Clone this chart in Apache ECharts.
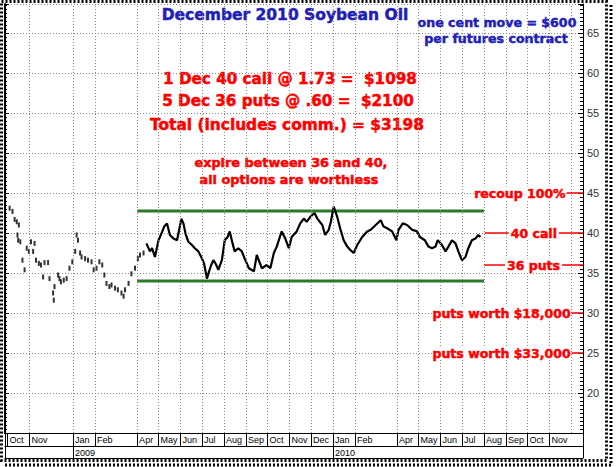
<!DOCTYPE html>
<html><head><meta charset="utf-8">
<script src="https://cdn.jsdelivr.net/npm/echarts@6/dist/echarts.min.js"></script>
<style>html,body{margin:0;padding:0;background:#fff}#c{width:616px;height:467px}</style>
</head><body><div id="c"></div>
<script>
// ---------- data ----------
const earlyDates = ['2008-10-04','2008-10-08','2008-10-11','2008-10-14','2008-10-15','2008-10-16','2008-10-17','2008-10-19','2008-10-22','2008-10-25','2008-10-28','2008-10-31','2008-11-03','2008-11-06','2008-11-08','2008-11-10','2008-11-14','2008-11-17','2008-11-20','2008-11-22','2008-11-27','2008-11-29','2008-12-04','2008-12-05','2008-12-06','2008-12-11','2008-12-13','2008-12-15','2008-12-19','2008-12-23','2008-12-27','2008-12-31','2009-01-04','2009-01-06','2009-01-08','2009-01-11','2009-01-13','2009-01-18','2009-01-22','2009-01-27','2009-01-30','2009-02-03','2009-02-07','2009-02-11','2009-02-14','2009-02-17','2009-02-21','2009-02-24','2009-03-01','2009-03-05','2009-03-10','2009-03-13','2009-03-15','2009-03-20','2009-03-24','2009-03-29','2009-04-02','2009-04-05','2009-04-10'];
const earlyValues = [43.1,42.7,41.7,41.4,39.75,39.1,41.0,38.9,36.6,35.4,38.1,37.7,38.9,37.7,38.7,36.6,36.2,36.0,34.5,36.3,36.3,34.3,32.5,31.6,33.3,34.75,34.3,33.9,34.1,34.3,35.6,36.4,37.7,39.75,39.1,37.5,37.0,36.8,36.6,36.4,35.4,35.6,36.4,36.0,34.75,33.7,33.3,33.5,33.1,32.9,32.5,32.1,32.9,33.7,34.9,35.6,36.8,37.25,37.5];

const priceDates = ['2009-04-14','2009-04-19','2009-04-22','2009-04-26','2009-05-01','2009-05-05','2009-05-09','2009-05-13','2009-05-17','2009-05-22','2009-05-27','2009-05-31','2009-06-02','2009-06-05','2009-06-08','2009-06-12','2009-06-17','2009-06-21','2009-06-26','2009-06-30','2009-07-04','2009-07-08','2009-07-11','2009-07-14','2009-07-17','2009-07-20','2009-07-24','2009-07-29','2009-08-02','2009-08-06','2009-08-09','2009-08-13','2009-08-16','2009-08-21','2009-08-26','2009-08-30','2009-09-05','2009-09-12','2009-09-16','2009-09-23','2009-09-30','2009-10-05','2009-10-10','2009-10-14','2009-10-21','2009-10-26','2009-10-31','2009-11-04','2009-11-11','2009-11-16','2009-11-21','2009-11-25','2009-11-30','2009-12-06','2009-12-10','2009-12-17','2009-12-21','2009-12-26','2009-12-29','2010-01-02','2010-01-07','2010-01-11','2010-01-16','2010-01-21','2010-01-25','2010-01-30','2010-02-04','2010-02-11','2010-02-18','2010-02-23','2010-03-02','2010-03-09','2010-03-13','2010-03-18','2010-03-25','2010-03-31','2010-04-03','2010-04-09','2010-04-15','2010-04-22','2010-04-29','2010-05-03','2010-05-10','2010-05-15','2010-05-20','2010-05-25','2010-05-28','2010-06-03','2010-06-08','2010-06-12','2010-06-17','2010-06-22','2010-06-26','2010-07-01','2010-07-06','2010-07-10','2010-07-15','2010-07-20','2010-07-24','2010-07-27'];
const priceValues = [38.7,37.7,38.1,37.0,39.1,39.9,40.8,41.2,39.75,39.3,39.1,40.8,41.8,41.2,39.9,38.9,38.5,38.1,37.7,37.0,36.2,34.3,35.2,36.0,36.6,36.2,35.4,36.6,39.1,39.5,40.2,38.7,37.7,38.1,37.7,36.8,35.6,35.2,37.25,35.6,36.0,35.6,37.5,38.3,40.2,39.3,38.1,39.5,40.2,41.2,41.8,41.4,42.0,42.5,41.8,41.0,39.75,40.4,41.4,43.3,42.0,40.6,39.1,38.3,37.9,37.5,38.5,39.5,40.2,40.4,41.0,41.6,40.8,40.6,40.2,39.1,40.4,41.2,41.0,40.4,40.2,39.5,39.1,38.3,38.1,38.3,39.1,38.5,37.7,38.3,39.1,38.7,37.7,36.6,37.0,38.1,39.1,39.3,39.75,39.5];

const channelDates = ['2009-04-01','2010-08-01'];
const resistanceValues = [42.75, 42.75];
const supportValues = [34.0, 34.0];

const monthLabelDates = ['2008-10-01','2008-11-01','2009-01-01','2009-02-01','2009-04-01','2009-05-01','2009-06-01','2009-07-01','2009-08-01','2009-09-01','2009-10-01','2009-11-01','2009-12-01','2010-01-01','2010-02-01','2010-04-01','2010-05-01','2010-06-01','2010-07-01','2010-08-01','2010-09-01','2010-10-01','2010-11-01'];
const gridMonthDates = monthLabelDates.slice(1).concat(['2010-12-01']);
const yearLabelDates = ['2009-01-01','2010-01-01'];
const xMinDate = '2008-09-27T12:00:00';
const xMaxDate = '2010-12-18';

const yMin = 15, yMax = 68.625, yInterval = 5;

const refTexts  = ['recoup 100%', '40 call', '36 puts', 'puts worth $18,000', 'puts worth $33,000'];
const refLevels = [45, 40, 36, 30, 25];
const refFrom   = ['2010-11-25', '2010-08-02', '2010-08-01', '2010-12-02', '2010-12-02'];
const refPos    = ['start', 'middle', 'middle', 'start', 'start'];

const monthNames = ['Jan','Feb','Mar','Apr','May','Jun','Jul','Aug','Sep','Oct','Nov','Dec'];

// ---------- chart ----------
const ts = s => new Date(s.length === 10 ? s + 'T00:00:00' : s).getTime();
const xMin = ts(xMinDate), xMax = ts(xMaxDate);
const zip = (a, b) => a.map((d, i) => [ts(d), b[i]]);
const FONT = 'DejaVu Sans';
const RED = '#ff0000', BLUE = '#1f1fb8', GREEN = '#2a7a2a';
const dotted = {color: '#8a8a8a', width: 1, type: [1, 2]};

const chart = echarts.init(document.getElementById('c'), null, {renderer: 'svg'});

const markData = refTexts.map((t, i) => [
  {coord: [ts(refFrom[i]), refLevels[i]], label: {formatter: t, position: refPos[i],
    padding: refPos[i] === 'middle' ? [0, 2] : 0, distance: refPos[i] === 'middle' ? 0 : 1}},
  {coord: [xMax, refLevels[i]]}
]);

const baseX = {type: 'value', min: xMin, max: xMax, scale: true};
const txt = (text, x, y, fill, size) => ({type: 'text', silent: true, style: {
  text, x, y, align: 'center', verticalAlign: 'middle', fill, fontFamily: FONT,
  fontWeight: 'bold', fontSize: size, stroke: fill, lineWidth: 0.5}});

chart.setOption({
  animation: false,
  backgroundColor: '#fff',
  grid: {left: 5, right: 33, top: 4, bottom: 34, containLabel: false},
  xAxis: [
    Object.assign({}, baseX, {
      position: 'bottom',
      axisLine: {show: true, lineStyle: {color: '#000', width: 1}},
      axisTick: {show: true, inside: false, length: 13, lineStyle: {color: '#000', width: 1},
        customValues: [xMinDate].concat(monthLabelDates, [xMaxDate]).map(ts)},
      axisLabel: {show: true, customValues: monthLabelDates.map(ts), align: 'left', margin: 2,
        padding: [0, 0, 0, 2], fontSize: 9, color: '#000', fontFamily: 'Liberation Sans',
        formatter: v => monthNames[new Date(v).getMonth()]},
      splitLine: {show: false}
    }),
    Object.assign({}, baseX, {
      position: 'bottom', offset: 13,
      axisLine: {show: true, lineStyle: {color: '#000', width: 1}},
      axisTick: {show: true, inside: false, length: 12, lineStyle: {color: '#000', width: 1},
        customValues: [xMinDate].concat(yearLabelDates, [xMaxDate]).map(ts)},
      axisLabel: {show: true, customValues: yearLabelDates.map(ts), align: 'left', margin: 2,
        padding: [0, 0, 0, 2], fontSize: 9, color: '#000', fontFamily: 'Liberation Sans',
        formatter: v => String(new Date(v).getFullYear())},
      splitLine: {show: false}
    }),
    Object.assign({}, baseX, {
      position: 'bottom', offset: 25,
      axisLine: {show: true, lineStyle: {color: '#000', width: 1}},
      axisTick: {show: false}, axisLabel: {show: false}, splitLine: {show: false}
    })
  ],
  yAxis: [
    {
      type: 'value', position: 'right', min: yMin, max: yMax, interval: yInterval,
      axisLine: {show: true, lineStyle: {color: '#000', width: 1}},
      axisTick: {show: true, inside: true, length: 5, lineStyle: {color: '#000'}},
      minorTick: {show: true, splitNumber: 10, length: 3, lineStyle: {color: '#000'}},
      axisLabel: {showMinLabel: false, showMaxLabel: false, fontSize: 11, color: '#333',
        fontFamily: 'Liberation Sans', margin: 4},
      splitLine: {show: true, lineStyle: dotted}
    },
    {
      type: 'value', position: 'left', min: yMin, max: yMax, interval: yInterval,
      axisLine: {show: true, lineStyle: {color: '#000', width: 2}},
      axisTick: {show: true, inside: true, length: 4, lineStyle: {color: '#000'}},
      minorTick: {show: true, splitNumber: 10, length: 2, lineStyle: {color: '#000'}},
      axisLabel: {show: false}, splitLine: {show: false}
    }
  ],
  series: [
    {
      name: 'monthGrid', type: 'line', data: [], z: 1, silent: true,
      markLine: {
        silent: true, symbol: ['none', 'none'], animation: false, label: {show: false},
        lineStyle: dotted,
        data: gridMonthDates.map(d => ({xAxis: ts(d)}))
      }
    },
    {
      name: 'early', type: 'scatter', data: zip(earlyDates, earlyValues),
      symbol: 'rect', symbolSize: [2, 5], itemStyle: {color: '#000'}, silent: true, z: 4
    },
    {
      name: 'price', type: 'line', data: zip(priceDates, priceValues), symbol: 'none',
      lineStyle: {color: '#000', width: 2.2}, z: 4, silent: true
    },
    {
      name: 'resistance', type: 'line', data: zip(channelDates, resistanceValues), symbol: 'none',
      lineStyle: {color: GREEN, width: 3}, z: 3, silent: true
    },
    {
      name: 'support', type: 'line', data: zip(channelDates, supportValues), symbol: 'none',
      lineStyle: {color: GREEN, width: 3}, z: 3, silent: true,
      markLine: {
        silent: true, symbol: ['none', 'none'], animation: false,
        lineStyle: {color: RED, width: 1.5, type: 'solid'},
        label: {show: true, color: RED, fontFamily: FONT, fontWeight: 'bold', fontSize: 12.5,
          verticalAlign: 'middle', backgroundColor: '#fff', textBorderColor: RED, textBorderWidth: 0.5},
        data: markData
      }
    }
  ],
  graphic: [
    txt('December 2010 Soybean Oil', 285, 15, BLUE, 15.5),
    txt('one cent move = $600', 497, 22, BLUE, 12.6),
    txt('per futures contract', 496, 38, BLUE, 12.6),
    txt('1 Dec 40 call @ 1.73 =  $1098', 290, 79, RED, 15.2),
    txt('5 Dec 36 puts @ .60 =  $2100', 288, 101, RED, 15.2),
    txt('Total (includes comm.) = $3198', 287, 125, RED, 15.4),
    txt('expire between 36 and 40,', 291, 162, RED, 12.8),
    txt('all options are worthless', 289, 179, RED, 12.8),
    {type: 'rect', silent: true, shape: {x: 1.5, y: 1.5, width: 605, height: 459}, style: {fill: 'none', stroke: '#000', lineWidth: 3, lineDash: [2, 2]}},
    {type: 'line', silent: true, shape: {x1: 611, y1: 5, x2: 611, y2: 465}, style: {stroke: '#000', lineWidth: 3, lineDash: [2, 2]}},
    {type: 'line', silent: true, shape: {x1: 5, y1: 465, x2: 612, y2: 465}, style: {stroke: '#000', lineWidth: 3, lineDash: [2, 2]}}
  ]
});
</script></body></html>
